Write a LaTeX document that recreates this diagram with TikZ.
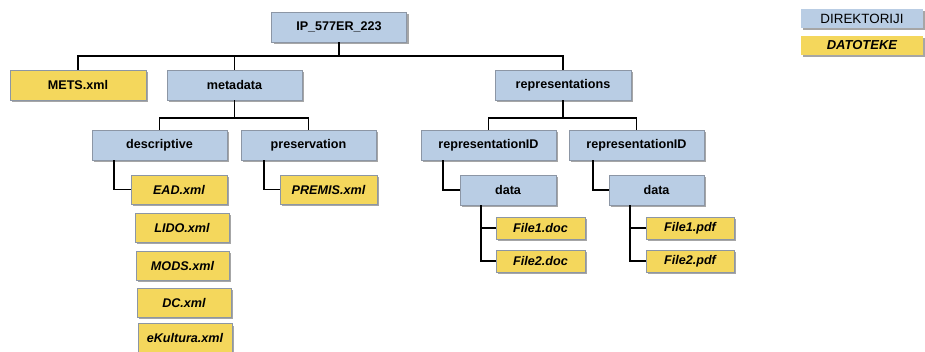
\documentclass[tikz,border=0pt]{standalone}
\usepackage{fontspec}
\setmainfont{Liberation Sans}
\usetikzlibrary{positioning, shadows}

\definecolor{dirblue}{RGB}{185,205,228}
\definecolor{fileyellow}{RGB}{244,215,92}
\definecolor{boxedge}{RGB}{140,150,165}

\begin{document}
\begin{tikzpicture}[x=1pt, y=-1pt, line width=1.8pt,
  box/.style = {draw=boxedge, line width=0.6pt, inner sep=0pt, font=\fontsize{12.6}{14}\selectfont\bfseries,
    drop shadow={shadow xshift=2pt, shadow yshift=-2pt, opacity=0.35, fill=black}},
  dir/.style = {box, fill=dirblue, minimum width=135pt, minimum height=30pt},
  file/.style = {box, fill=fileyellow, minimum width=95pt, minimum height=29pt, font=\fontsize{12.6}{14}\selectfont\bfseries\itshape},
  small/.style = {file, minimum width=89pt, minimum height=22pt},
  key/.style = {draw=none, inner sep=0pt, minimum width=122pt, minimum height=19pt,
    drop shadow={shadow xshift=1.5pt, shadow yshift=-2pt, opacity=0.35, fill=black}}]
\useasboundingbox (0,0) rectangle (925,351);

% top level
\node[dir] (ip) at (339,27) {IP\_577ER\_223};
\node[dir, fill=fileyellow, minimum width=136pt] (mets) at (78,85) {METS.xml};
\node[dir] (meta) at (234.5,85) {metadata};
\node[dir, minimum width=136pt] (rep) at (563,85) {representations};

% metadata
\node[dir] (desc) at (159.5,145) {descriptive};
\node[dir] (pres) at (308.5,145) {preservation};
\node[file, minimum width=96pt] (ead) at (179,189.5) {EAD.xml};
\node[file, minimum width=94pt] (lido) at (182,227.5) {LIDO.xml};
\node[file, minimum width=93pt] (mods) at (182.5,265.5) {MODS.xml};
\node[file, minimum width=94pt] (dc) at (184,302.5) {DC.xml};
\node[file, minimum width=94pt] (eku) at (185,338) {eKultura.xml};
\node[file, minimum width=97pt] (premis) at (328.5,189.5) {PREMIS.xml};

% representations
\node[dir] (repa) at (488.5,145) {representationID};
\node[dir] (repb) at (636.5,145) {representationID};
\node[dir, minimum width=96pt] (dataa) at (508,190) {data};
\node[dir, minimum width=95pt] (datab) at (656.5,190) {data};
\node[small] (doca) at (540.5,228) {File1.doc};
\node[small] (docb) at (540.5,261) {File2.doc};
\node[small, minimum width=88pt] (pdfa) at (690,228) {File1.pdf};
\node[small, minimum width=88pt] (pdfb) at (690,261) {File2.pdf};

% legend
\node[key, fill=dirblue] (kdir) at (862,18.5) {\fontsize{13.4}{15}\selectfont DIREKTORIJI};
\node[key, fill=fileyellow] (kfile) at (862,45.5) {\fontsize{13}{15}\selectfont\bfseries\itshape DATOTEKE};

% connectors
\coordinate (topbus) at (0,56);
\coordinate (midbus) at (0,118);
\draw (ip.south) -- (ip.south |- topbus);
\draw (mets.north) |- (rep.north |- topbus) -- (rep.north);
\draw (meta.north) -- (meta.north |- topbus);
\draw (meta.south) -- (meta.south |- midbus);
\draw (desc.north) |- (pres.north |- midbus) -- (pres.north);
\draw (rep.south) -- (rep.south |- midbus);
\draw (repa.north) |- (repb.north |- midbus) -- (repb.north);
\draw ([xshift=-45.5pt]desc.south) |- (ead.west);
\draw ([xshift=-44.5pt]pres.south) |- (premis.west);
\draw ([xshift=-45.5pt]repa.south) |- (dataa.west);
\draw ([xshift=-43.5pt]repb.south) |- (datab.west);
\draw ([xshift=-27pt]dataa.south) |- (docb.west);
\draw ([xshift=-27pt]dataa.south |- doca.west) -- (doca.west);
\draw ([xshift=-26.5pt]datab.south) |- (pdfb.west);
\draw ([xshift=-26.5pt]datab.south |- pdfa.west) -- (pdfa.west);
\end{tikzpicture}
\end{document}
